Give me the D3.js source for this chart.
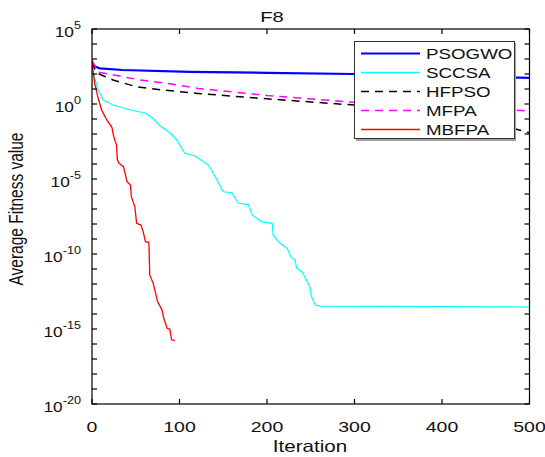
<!DOCTYPE html>
<html lang="en">
<head>
  <meta charset="UTF-8">
  <title>F8</title>
  <script src="https://d3js.org/d3.v7.min.js"></script>
  <style>
    body {
      margin: 0;
      background: white;
      font-family: "Liberation Sans", Arial, sans-serif;
    }
    svg {
      display: block;
    }
    text {
      fill: #111;
    }
  </style>
</head>
<body>
  <svg width="545" height="457"></svg>

  <script>
    // convergence curves, [iteration, average fitness]
    const psogwo = [[0, 630], [3, 320], [9, 240], [35, 185], [112, 140], [200, 120], [299, 100], [400, 75], [500, 56]];
    const sccsa = [[0, 630], [1.5, 120], [7, 8.5], [13, 1.85], [24, 0.85], [44, 0.4], [61, 0.25], [69, 0.12], [78, 0.034],
      [89, 0.012], [97, 4e-3], [106, 5.2e-4], [118, 3.4e-4], [124, 1.9e-4], [133, 8.5e-5], [143, 8.5e-6], [150, 1.4e-6],
      [160, 1.2e-6], [167, 2.5e-7], [179, 1.9e-7], [183, 4e-8], [194, 1.4e-8], [206, 1.1e-8], [207, 1.9e-9], [213, 6.6e-10],
      [223, 2.4e-10], [227, 6.6e-11], [232, 4e-11], [234, 1.1e-11], [240, 6.6e-12], [246, 1.4e-12], [249, 6.6e-13],
      [251, 1.4e-13], [255, 4e-14], [261, 3.4e-14], [500, 2.9e-14]];
    const hfpso = [[0, 630], [5, 120], [12, 80], [24, 40], [51, 14], [81, 8.5], [121, 5.1], [200, 2.2], [300, 0.85],
      [350, 0.5], [400, 0.25], [450, 0.07], [480, 0.025], [500, 0.012]];
    const mfpa = [[0, 800], [7, 135], [55, 40], [86, 24], [121, 11], [200, 3.7], [299, 1.3], [400, 0.6], [500, 0.35]];
    const mbfpa = [[0, 630], [3, 25], [7, 2.5], [11, 0.4], [17, 0.085], [21, 0.04], [23, 0.025], [24, 0.011], [26, 4e-3],
      [28, 1.9e-3], [29, 1.9e-4], [31, 1.1e-4], [36, 6.6e-5], [40, 6.6e-6], [44, 4e-6], [45, 6.6e-7], [49, 1.4e-7],
      [51, 1.1e-8], [56, 8.5e-9], [59, 2.4e-9], [61, 6.6e-10], [65, 6e-10], [66, 4e-12], [70, 1.1e-12], [75, 6.6e-14],
      [80, 1.9e-14], [82, 5.2e-15], [86, 1.1e-15], [89, 9.5e-16], [91, 1.9e-16], [95, 1.7e-16]];

    const seriesNames = ["PSOGWO", "SCCSA", "HFPSO", "MFPA", "MBFPA"];
    const xTicks = [0, 100, 200, 300, 400, 500];
    const yExponents = [5, 0, -5, -10, -15, -20];

    const series = [
      { name: "PSOGWO", data: psogwo, color: "#0000ff", width: 2.2, dash: null },
      { name: "SCCSA", data: sccsa, color: "#00ffff", width: 1.2, dash: null },
      { name: "HFPSO", data: hfpso, color: "#000000", width: 1.5, dash: "8,6" },
      { name: "MFPA", data: mfpa, color: "#ff00ff", width: 1.5, dash: "8,6" },
      { name: "MBFPA", data: mbfpa, color: "#ff0000", width: 1.3, dash: null }
    ];

    const plotLeft = 92, plotRight = 529.5, plotTop = 29, plotBottom = 404;

    const x = d3.scaleLinear().domain([0, 500]).range([plotLeft, plotRight]);
    const y = d3.scaleLog().domain([1e-20, 1e5]).range([plotBottom, plotTop]);

    const svg = d3.select("svg");

    // text stretched a bit horizontally, like the exported figure
    function label(g, tx, ty, str, size, anchor, sx, rot) {
      return g.append("text")
        .attr("transform", `translate(${tx},${ty}) scale(${sx},1)` + (rot ? ` rotate(${rot})` : ""))
        .attr("text-anchor", anchor)
        .style("font-size", size + "px")
        .text(str);
    }

    // curves
    const line = d3.line().x(d => x(d[0])).y(d => y(d[1]));
    const plot = svg.append("g");
    plot.append("defs").append("clipPath").attr("id", "clip")
      .append("rect").attr("x", plotLeft).attr("y", plotTop)
      .attr("width", plotRight - plotLeft).attr("height", plotBottom - plotTop);

    plot.append("g").attr("clip-path", "url(#clip)")
      .selectAll("path")
      .data(series)
      .join("path")
      .attr("fill", "none")
      .attr("stroke", d => d.color)
      .attr("stroke-width", d => d.width)
      .attr("stroke-dasharray", d => d.dash)
      .attr("d", d => line(d.data));

    // frame and ticks
    const axes = svg.append("g").attr("stroke", "#000").attr("stroke-width", 1.2);
    axes.append("rect")
      .attr("x", plotLeft).attr("y", plotTop)
      .attr("width", plotRight - plotLeft).attr("height", plotBottom - plotTop)
      .attr("fill", "none");

    const tickLen = 5;
    xTicks.forEach(t => {
      axes.append("line").attr("x1", x(t)).attr("x2", x(t)).attr("y1", plotBottom).attr("y2", plotBottom - tickLen);
      axes.append("line").attr("x1", x(t)).attr("x2", x(t)).attr("y1", plotTop).attr("y2", plotTop + tickLen);
    });
    for (let e = -20; e <= 5; e++) {
      const yy = y(Math.pow(10, e));
      axes.append("line").attr("x1", plotLeft).attr("x2", plotLeft + tickLen).attr("y1", yy).attr("y2", yy);
      axes.append("line").attr("x1", plotRight).attr("x2", plotRight - tickLen).attr("y1", yy).attr("y2", yy);
    }

    const txt = svg.append("g");
    xTicks.forEach(t => label(txt, x(t), 432, String(t), 15, "middle", 1.3));

    yExponents.forEach(e => {
      const t = txt.append("text")
        .attr("transform", `translate(81,${y(Math.pow(10, e)) + 8}) scale(1.15,1)`)
        .attr("text-anchor", "end")
        .style("font-size", "15px");
      t.append("tspan").text("10");
      t.append("tspan").attr("dy", -8.5).style("font-size", "11px").text(String(e));
    });

    label(txt, 272, 22, "F8", 15.5, "middle", 1.3);
    label(txt, 310, 452, "Iteration", 16.5, "middle", 1.25);
    label(txt, 23, 209, "Average Fitness value", 15.5, "middle", 1.25, -90);

    // legend
    const lg = svg.append("g");
    lg.append("rect")
      .attr("x", 356).attr("y", 43).attr("width", 160).attr("height", 98)
      .attr("fill", "#a0a0a0");
    lg.append("rect")
      .attr("x", 354.5).attr("y", 41.5).attr("width", 160).attr("height", 97)
      .attr("fill", "#fff").attr("stroke", "#333");
    series.forEach((s, i) => {
      const ly = 53.5 + i * 19;
      lg.append("line")
        .attr("x1", 361).attr("x2", 420).attr("y1", ly).attr("y2", ly)
        .attr("stroke", s.color)
        .attr("stroke-width", Math.max(s.width, 1.5))
        .attr("stroke-dasharray", s.dash);
      label(lg, 426, ly + 5.5, seriesNames[i], 15, "start", 1.25);
    });
  </script>
</body>
</html>
